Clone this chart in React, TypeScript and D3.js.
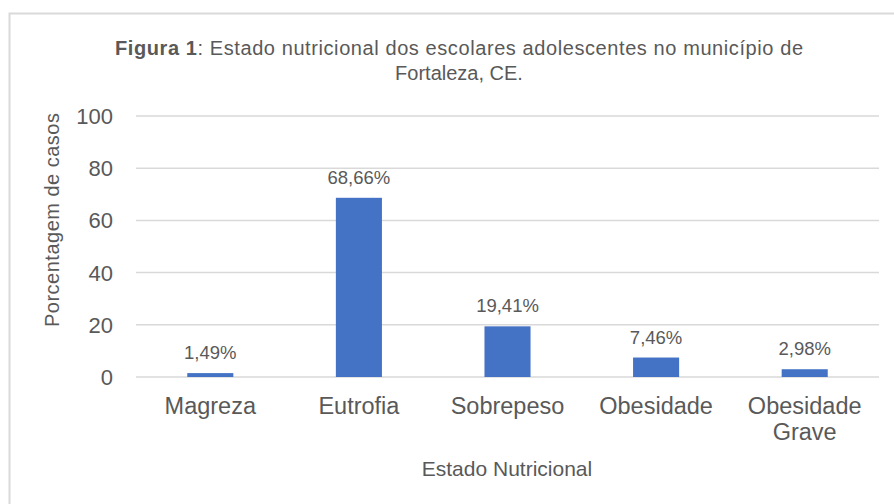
import React from "react";
import * as d3 from "d3";

const categories = ["Magreza", "Eutrofia", "Sobrepeso", "Obesidade", "Obesidade Grave"];
const values = [1.49, 68.66, 19.41, 7.46, 2.98];
const yTicks = [0, 20, 40, 60, 80, 100];

const W = 894;
const H = 504;
const margin = { top: 116, right: 15, bottom: 127, left: 136 };
const font = "'Liberation Sans', Arial, sans-serif";
const textColor = "#595959";

const fmt = (v: number) => v.toFixed(2).replace(".", ",") + "%";

const App = () => {
  const x = d3
    .scaleBand<string>()
    .domain(categories)
    .range([margin.left, W - margin.right])
    .paddingInner(0.69)
    .paddingOuter(0.345);
  const y = d3
    .scaleLinear()
    .domain([0, 100])
    .range([H - margin.bottom, margin.top]);

  return (
    <div>
      <style>{"body{margin:0}"}</style>
      <svg width={W} height={H} style={{ display: "block", fontFamily: font }}>
        <rect x={0} y={0} width={W} height={H} fill="#fff" />
        <rect x={9.5} y={13.5} width={W} height={H} fill="none" stroke="#d9d9d9" strokeWidth={2} />

        <text x={459} y={55} textAnchor="middle" fontSize={20} fill={textColor} textLength={688} lengthAdjust="spacing">
          <tspan fontWeight="bold">Figura 1</tspan>: Estado  nutricional dos escolares adolescentes  no município de
        </text>
        <text x={459} y={80} textAnchor="middle" fontSize={20} fill={textColor}>
          Fortaleza,  CE.
        </text>

        {yTicks.map((t) => (
          <g key={t}>
            <line x1={margin.left} x2={W - margin.right} y1={y(t)} y2={y(t)} stroke="#d9d9d9" strokeWidth={1.5} />
            <text x={113} y={y(t)} dy="0.36em" textAnchor="end" fontSize={22} fill={textColor}>
              {t}
            </text>
          </g>
        ))}

        {categories.map((c, i) => {
          const cx = (x(c) as number) + x.bandwidth() / 2;
          return (
            <g key={c}>
              <rect x={x(c)} y={y(values[i])} width={x.bandwidth()} height={y(0) - y(values[i])} fill="#4472c4" />
              <text x={cx} y={y(values[i]) - 14} textAnchor="middle" fontSize={18.5} fill={textColor}>
                {fmt(values[i])}
              </text>
              {c.split(" ").map((w, j) => (
                <text key={w} x={cx} y={414 + j * 26} textAnchor="middle" fontSize={23.5} fill={textColor}>
                  {w}
                </text>
              ))}
            </g>
          );
        })}

        <text x={507} y={476} textAnchor="middle" fontSize={21} fill={textColor}>
          Estado Nutricional
        </text>
        <text
          transform="translate(59,220) rotate(-90)"
          textAnchor="middle"
          fontSize={20}
          fill={textColor}
          textLength={214}
          lengthAdjust="spacing"
        >
          Porcentagem de casos
        </text>
      </svg>
    </div>
  );
};

export default App;
